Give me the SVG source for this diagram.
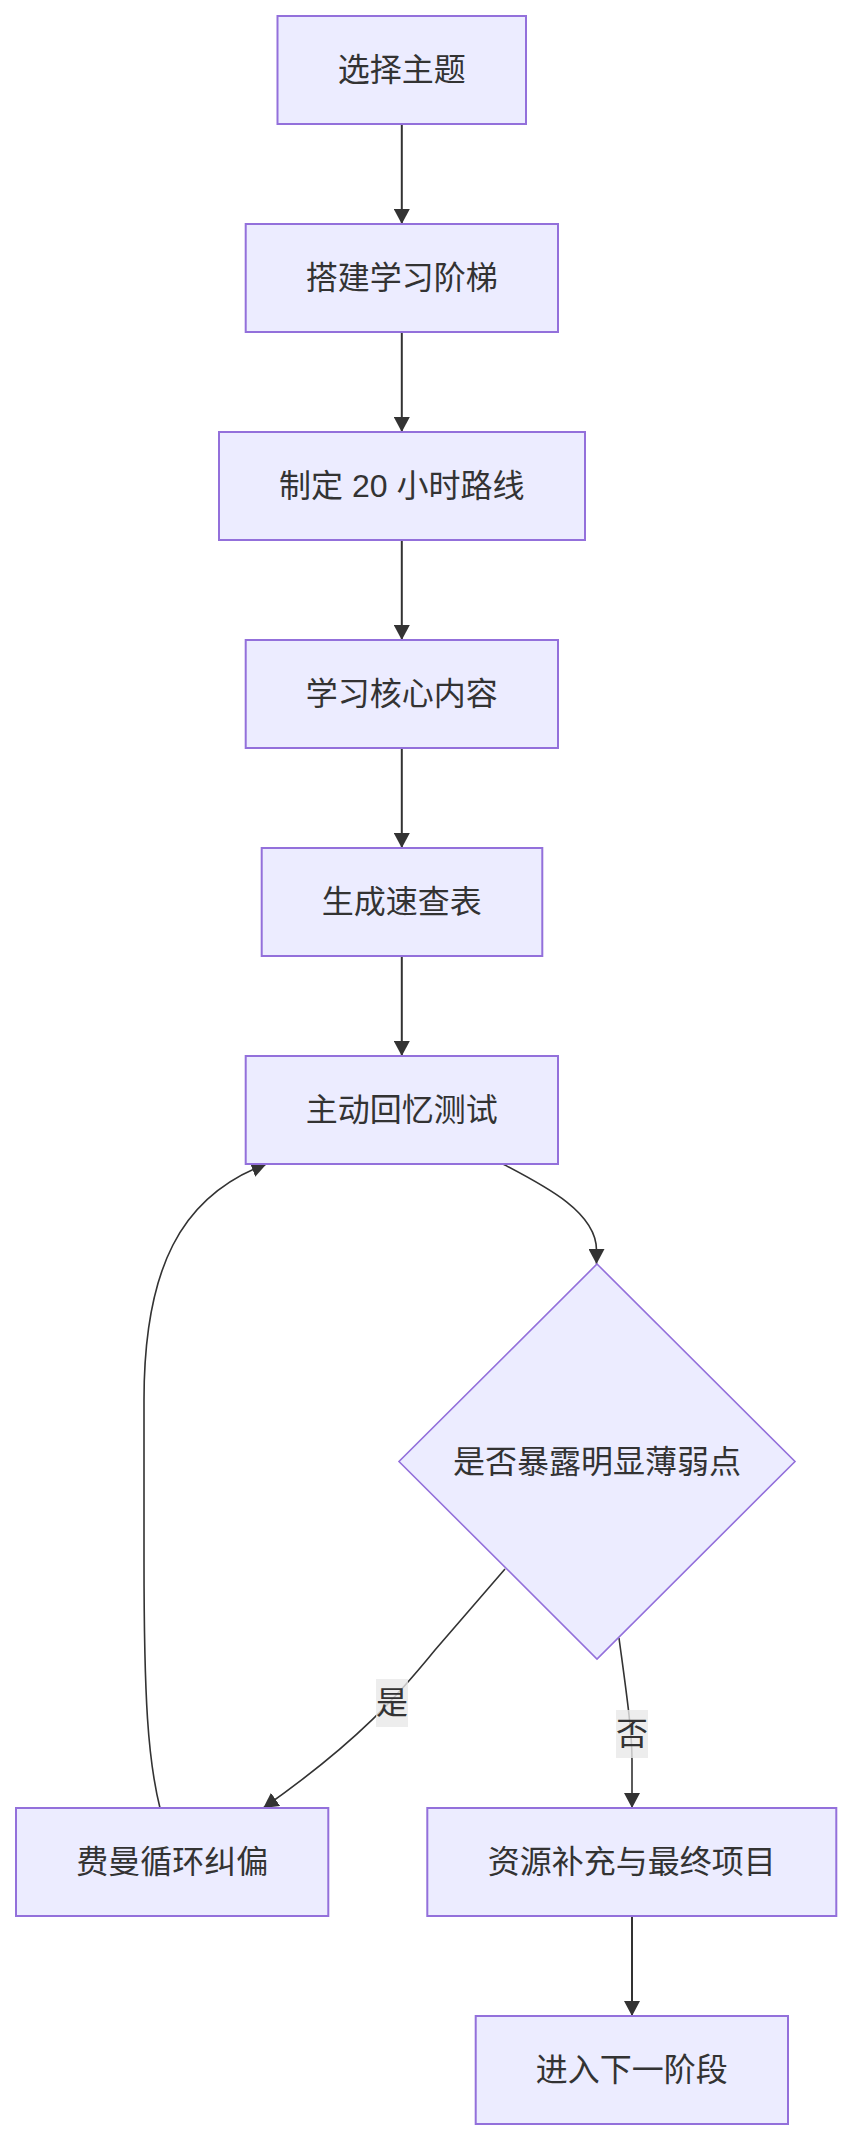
<svg xmlns="http://www.w3.org/2000/svg" width="852" height="2140" viewBox="0 0 852 2140">
<style>
.node rect, .node polygon { fill: #ECECFF; stroke: #9370DB; stroke-width: 2; }
.node polygon { stroke-width: 1.6; }
.node text, .elabel text { font-family: "Liberation Sans", "Noto Sans CJK SC", sans-serif; font-size: 32px; fill: #333333; text-anchor: middle; dominant-baseline: central; }
.edge { fill: none; stroke: #333333; stroke-width: 2; }
.edge.curve { stroke-width: 1.6; }
.elabel rect { fill: #e8e8e8; fill-opacity: 0.8; }
</style>
<defs>
<marker id="arrow" viewBox="0 0 16 16" refX="15" refY="8" markerWidth="16" markerHeight="16" markerUnits="userSpaceOnUse" orient="auto">
<path d="M0,0 L15,8 L0,16 z" fill="#333333"/>
</marker>
</defs>
<rect width="852" height="2140" fill="#ffffff"/>
<g id="connectors">
<path class="edge" d="M401.8,124 L401.8,224" marker-end="url(#arrow)"/>
<path class="edge" d="M401.8,332 L401.8,432" marker-end="url(#arrow)"/>
<path class="edge" d="M401.8,540 L401.8,640" marker-end="url(#arrow)"/>
<path class="edge" d="M401.8,748 L401.8,848" marker-end="url(#arrow)"/>
<path class="edge" d="M401.8,956 L401.8,1056" marker-end="url(#arrow)"/>
<path class="edge curve" d="M503,1164 C545,1186 596.5,1212 596.5,1250 L596.5,1264" marker-end="url(#arrow)"/>
<path class="edge curve" d="M505,1569 L435,1650 C400,1693 360,1740 263.3,1808" marker-end="url(#arrow)"/>
<path class="edge curve" d="M619,1638 C626,1690 632,1730 632,1760 L632,1808" marker-end="url(#arrow)"/>
<path class="edge curve" d="M160,1808 C148,1760 144,1700 144,1560 L144,1400 C144,1270 180,1196 266.5,1164" marker-end="url(#arrow)"/>
<path class="edge" d="M632,1916 L632,2016" marker-end="url(#arrow)"/>
<g class="elabel" id="label-yes">
<rect x="376" y="1679" width="32" height="48"/>
<text x="392" y="1703">是</text>
</g>
<g class="elabel" id="label-no">
<rect x="616" y="1710" width="32" height="48"/>
<text x="632" y="1734">否</text>
</g>
</g>
<g class="node" id="n1">
<rect x="277.5" y="16" width="248.5" height="108"/>
<text x="401.8" y="70">选择主题</text>
</g>
<g class="node" id="n2">
<rect x="245.7" y="224" width="312.3" height="108"/>
<text x="401.8" y="278">搭建学习阶梯</text>
</g>
<g class="node" id="n3">
<rect x="219" y="432" width="366" height="108"/>
<text x="401.8" y="486">制定 20 小时路线</text>
</g>
<g class="node" id="n4">
<rect x="245.7" y="640" width="312.3" height="108"/>
<text x="401.8" y="694">学习核心内容</text>
</g>
<g class="node" id="n5">
<rect x="261.7" y="848" width="280.6" height="108"/>
<text x="401.8" y="902">生成速查表</text>
</g>
<g class="node" id="n6">
<rect x="245.7" y="1056" width="312.3" height="108"/>
<text x="401.8" y="1110">主动回忆测试</text>
</g>
<g class="node" id="n7">
<polygon points="597,1264 795,1461.5 597,1659 399,1461.5"/>
<text x="597" y="1461.5">是否暴露明显薄弱点</text>
</g>
<g class="node" id="n8">
<rect x="16" y="1808" width="312.3" height="108"/>
<text x="172.2" y="1862">费曼循环纠偏</text>
</g>
<g class="node" id="n9">
<rect x="427.3" y="1808" width="409" height="108"/>
<text x="631.8" y="1862">资源补充与最终项目</text>
</g>
<g class="node" id="n10">
<rect x="475.7" y="2016" width="312.3" height="108"/>
<text x="631.8" y="2070">进入下一阶段</text>
</g>
</svg>
